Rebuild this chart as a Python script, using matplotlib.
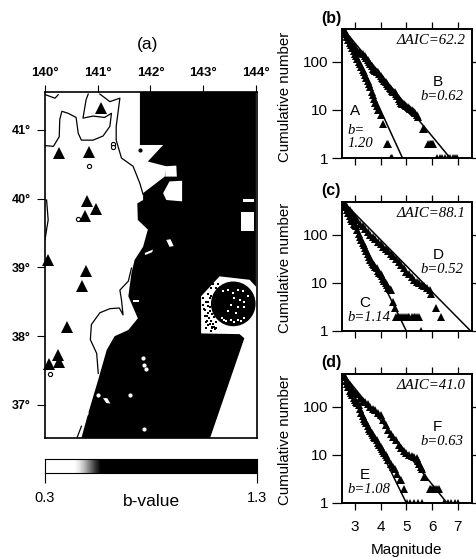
import matplotlib
matplotlib.use("Agg")
import matplotlib.pyplot as plt
from matplotlib.patches import Ellipse

plt.rcParams['font.family'] = ['Liberation Sans', 'DejaVu Sans']

W = 476
H = 557

# map data (lon, lat)
black_lon = [141.80, 141.80, 142.24, 141.95, 142.30, 142.27, 141.86, 141.86, 141.75, 141.76, 141.95, 141.86,
             141.70, 141.64, 141.58, 141.76, 141.58, 141.32, 141.17, 141.01, 140.82, 140.69,
             143.13, 143.78, 143.69, 142.96, 142.96, 143.31, 143.88, 144.0, 144.0]
black_lat = [41.55, 40.78, 40.78, 40.54, 40.47, 40.32, 40.08, 39.98, 39.93, 39.69, 39.55, 39.30,
             39.11, 38.92, 38.58, 38.26, 38.09, 38.0, 37.80, 37.37, 36.88, 36.52,
             36.52, 37.97, 38.03, 38.04, 38.58, 38.87, 38.82, 38.72, 41.55]

island_lons = [[142.24, 142.36, 142.60, 142.60, 142.30],
               [142.28, 142.49, 142.50, 142.28],
               [143.76, 143.97, 143.97, 143.76],
               [143.72, 143.97, 143.97, 143.72],
               [142.30, 142.38, 142.44, 142.36],
               [141.89, 142.05, 142.03, 141.90],
               [141.66, 141.78, 141.78, 141.66],
               [141.10, 141.18, 141.24, 141.16]]
island_lats = [[40.08, 40.25, 40.26, 39.96, 39.98],
               [40.47, 40.48, 40.32, 40.32],
               [40.00, 40.00, 39.95, 39.95],
               [39.80, 39.80, 39.53, 39.53],
               [39.40, 39.41, 39.31, 39.30],
               [39.21, 39.26, 39.22, 39.18],
               [38.53, 38.53, 38.50, 38.50],
               [37.10, 37.10, 37.02, 37.03]]
dot_lon = [141.01, 141.61, 141.86, 141.87, 141.91, 141.87, 140.78]
dot_lat = [37.14, 37.14, 37.68, 37.58, 37.52, 36.65, 36.88]

coast_lons = [[140.01, 140.16, 140.27, 140.28, 140.32, 140.44, 140.59, 140.63, 140.69, 140.91, 141.10, 141.23,
               141.26, 141.13, 140.91, 140.72, 140.78, 140.82],
              [141.04, 141.23, 141.42, 141.35, 141.35, 141.45, 141.67, 141.80, 141.86],
              [140.01, 140.19, 140.25],
              [140.03, 140.06, 140.03, 140.0],
              [141.64, 141.58, 141.42, 141.45, 141.48, 141.41, 141.23, 141.04, 140.88, 140.86, 140.98, 141.01],
              [140.69, 140.61]]
coast_lats = [[40.77, 40.76, 40.90, 41.15, 41.27, 41.24, 41.18, 40.95, 40.85, 40.85, 40.91, 41.05,
               41.24, 41.18, 41.20, 41.17, 41.44, 41.52],
              [41.52, 41.41, 41.46, 41.05, 40.85, 40.59, 40.47, 40.22, 40.06],
              [41.51, 41.46, 41.51],
              [39.98, 39.69, 39.55, 39.40],
              [38.99, 38.80, 38.67, 38.53, 38.31, 38.41, 38.40, 38.34, 38.17, 37.95, 37.75, 37.46],
              [36.69, 36.53]]
ring_lon = [140.84, 140.63, 140.09, 141.29, 141.29]
ring_lat = [40.47, 39.71, 37.45, 40.80, 40.75]

tri_lon = [140.27, 140.84, 141.07, 140.80, 140.96, 140.76, 140.06, 140.77, 140.70, 140.42, 140.24, 140.27, 140.08]
tri_lat = [40.67, 40.68, 41.32, 39.97, 39.85, 39.75, 39.11, 38.95, 38.73, 38.13, 37.73, 37.63, 37.60]

# big circle and its speckle
circle_lon = 143.57
circle_lat = 38.47
speck_w_lon = [143.37, 143.47, 143.56, 143.66, 143.75, 143.59, 143.69, 143.78, 143.84, 143.53, 143.66, 143.78,
               143.47, 143.40, 143.53, 143.66, 143.78, 143.62, 143.44, 143.72, 143.58, 143.35]
speck_w_lat = [38.65, 38.67, 38.63, 38.67, 38.65, 38.55, 38.53, 38.50, 38.58, 38.46, 38.43, 38.43,
               38.36, 38.24, 38.24, 38.24, 38.26, 38.33, 38.22, 38.22, 38.20, 38.27]
speck_b_lon = [143.00, 143.05, 143.10, 143.14, 143.18, 143.03, 143.08, 143.16, 143.22, 143.12, 143.20, 143.06,
               143.24, 143.15, 143.10, 143.26, 143.02, 143.18, 143.22, 143.12, 143.00, 143.04, 143.09, 143.13,
               143.17, 143.07, 143.11, 143.15, 143.19, 143.05, 143.09, 143.13, 143.17, 143.21, 143.25, 143.10,
               143.14, 143.20, 143.24, 143.28]
speck_b_lat = [38.56, 38.50, 38.62, 38.70, 38.76, 38.30, 38.22, 38.14, 38.10, 38.42, 38.28, 38.12,
               38.20, 38.08, 38.34, 38.66, 38.40, 38.48, 38.38, 38.56, 38.46, 38.38, 38.44, 38.36,
               38.32, 38.30, 38.26, 38.22, 38.18, 38.20, 38.16, 38.18, 38.12, 38.14, 38.12, 38.50,
               38.58, 38.60, 38.70, 38.76]

lon_ticks = [140, 141, 142, 143, 144]
lat_ticks = [37, 38, 39, 40, 41]

cbar_values = [[0, 0, 0, 0, 0, 0, 0.1, 0.3, 0.55, 0.8, 1, 1, 1, 1, 1, 1, 1, 1, 1, 1,
                1, 1, 1, 1, 1, 1, 1, 1, 1, 1, 1, 1, 1, 1, 1, 1, 1, 1, 1, 1]]

# frequency-magnitude data
a_m = [2.6, 2.65, 2.7, 2.75, 2.8, 2.85, 2.9, 2.95, 3.0, 3.05, 3.1, 3.15, 3.2, 3.25, 3.3, 3.35, 3.4, 3.45, 3.5,
       3.55, 3.6, 3.65, 3.7, 3.75, 3.8, 3.85, 3.9, 4.0, 4.1, 4.25, 4.3, 4.4, 4.45]
a_n = [430, 380, 330, 290, 250, 220, 190, 165, 145, 130, 115, 100, 88, 78, 68, 60, 53, 45, 40,
       34, 30, 24, 20, 17, 14, 12, 10, 8, 5, 2, 2, 1, 1]
b_m = [2.6, 2.65, 2.7, 2.75, 2.8, 2.85, 2.9, 2.95, 3.0, 3.05, 3.1, 3.15, 3.2, 3.3, 3.4, 3.45, 3.5, 3.55, 3.6,
       3.65, 3.7, 3.75, 3.8, 3.85, 3.9, 3.95, 4.0, 4.05, 4.1, 4.15, 4.2, 4.25, 4.3, 4.35, 4.4, 4.45, 4.5, 4.55, 4.6,
       4.65, 4.7, 4.75, 4.8, 4.85, 4.9, 4.95, 5.0, 5.05, 5.1, 5.15, 5.2, 5.25, 5.3, 5.35, 5.4, 5.45,
       5.65, 5.7, 5.85, 5.9, 5.95, 6.0, 6.05, 6.2, 6.3, 6.4, 6.5, 6.6, 6.7, 6.8, 6.9, 6.95]
b_n = [420, 380, 350, 320, 285, 260, 235, 215, 195, 180, 170, 160, 150, 145, 135, 120, 110, 100, 90,
       80, 72, 68, 65, 62, 60, 55, 50, 46, 43, 40, 38, 35, 32, 29, 27, 25, 24, 23, 21,
       19, 17, 15, 14, 13.5, 13, 12.5, 12, 11.5, 11, 10.5, 10, 9.5, 9, 8.5, 8, 7,
       4, 4, 2, 2, 2, 2, 2, 1, 1, 1, 1, 1, 1, 1, 1, 1]
c_m = [2.6, 2.65, 2.7, 2.75, 2.8, 2.85, 2.9, 2.95, 3.0, 3.05, 3.1, 3.15, 3.2, 3.25, 3.3, 3.35, 3.4, 3.45, 3.5,
       3.55, 3.6, 3.65, 3.7, 3.75, 3.8, 3.85, 3.9, 3.95, 4.0, 4.05, 4.1, 4.15, 4.2, 4.25, 4.3, 4.35, 4.4, 4.5, 4.57,
       4.6, 4.68, 4.75, 4.82, 4.9, 4.97, 5.05, 5.12, 5.2, 5.28, 5.35, 5.42, 5.5, 5.58]
c_n = [420, 370, 320, 280, 240, 210, 190, 170, 160, 150, 125, 105, 90, 78, 68, 60, 53, 46, 40,
       34, 30, 27, 25, 23, 21, 20, 18, 16, 15, 14, 12, 11, 10, 9, 8, 7.5, 7, 4, 3,
       2, 2, 2, 2, 2, 2, 2, 2, 2, 2, 2, 2, 2, 1]
d_m = [2.6, 2.7, 2.8, 2.9, 3.0, 3.1, 3.2, 3.3, 3.4, 3.5, 3.6, 3.7, 3.8, 3.9, 4.0, 4.1, 4.2, 4.3, 4.4, 4.5,
       4.6, 4.7, 4.8, 4.9, 5.0, 5.1, 5.2, 5.3, 5.4, 5.5, 5.6, 5.7, 5.8, 5.9, 5.97, 6.15, 6.35]
d_n = [430, 370, 320, 280, 235, 200, 170, 155, 135, 115, 100, 88, 80, 72, 64, 57, 50, 45, 40, 36,
       32, 27, 23, 20, 17, 15, 13, 11.5, 10.5, 10, 9, 8.5, 8, 7, 5.8, 3, 2]
e_m = [2.6, 2.65, 2.7, 2.75, 2.8, 2.85, 2.9, 2.95, 3.0, 3.05, 3.1, 3.15, 3.2, 3.25, 3.3, 3.35, 3.4, 3.45, 3.5, 3.55,
       3.6, 3.65, 3.7, 3.75, 3.8, 3.85, 3.9, 3.95, 4.0, 4.05, 4.1, 4.15, 4.2, 4.25, 4.3, 4.4, 4.5, 4.57, 4.65, 4.75,
       4.8, 4.9, 5.02, 5.15, 5.3, 5.45, 5.6]
e_n = [420, 350, 300, 260, 215, 195, 175, 155, 140, 128, 118, 108, 90, 76, 64, 55, 50, 45, 40, 35,
       31, 28, 26, 24, 22, 20, 18, 16, 14.5, 13, 12, 11, 10, 9, 8, 6.5, 5.5, 5, 4, 3,
       3, 2, 1, 1, 1, 1, 1]
f_m = [2.6, 2.7, 2.8, 2.9, 3.0, 3.1, 3.2, 3.3, 3.4, 3.5, 3.6, 3.7, 3.8, 3.9, 4.0, 4.1, 4.2, 4.3, 4.4, 4.5,
       4.6, 4.7, 4.8, 4.9, 5.0, 5.1, 5.2, 5.3, 5.4, 5.45, 5.5, 5.55, 5.6, 5.67, 5.72,
       5.9, 5.97, 6.05, 6.12, 6.2, 6.28, 6.45, 6.6, 6.75, 6.9, 7.0]
f_n = [420, 340, 290, 235, 205, 180, 155, 135, 125, 112, 100, 92, 84, 76, 68, 54, 42, 33, 27, 23,
       20, 16, 14, 12, 11, 10, 9.5, 9, 8.5, 7.5, 6.5, 5.5, 5, 3.5, 3.5,
       2, 2, 2, 2, 2, 2, 1, 1, 1, 1, 1]

line_a_m = [2.55, 4.85]
line_b_m = [2.55, 6.7]
line_c_m = [2.55, 5.0]
line_d_m = [2.55, 7.5]
line_e_m = [2.55, 5.0]
line_f_m = [2.55, 6.58]
line_n = [480, 1]

mag_ticks = [3, 4, 5, 6, 7]
num_ticks = [1, 10, 100]
num_labels = ['1', '10', '100']


def box(left, top, right, bottom):
    return [left / W, 1 - bottom / H, (right - left) / W, (bottom - top) / H]


fig = plt.figure(figsize=(W / 100, H / 100), dpi=100)

# (a) map
ax = fig.add_axes(box(45, 92, 257, 438))
ax.set_xlim(140, 144.02)
ax.set_ylim(36.52, 41.55)
ax.fill(black_lon, black_lat, color='black', lw=0)
for lo, la in zip(island_lons, island_lats):
    ax.fill(lo, la, color='white', lw=0)
ax.plot(dot_lon, dot_lat, 'o', color='white', ms=2)
ax.add_patch(Ellipse((circle_lon, circle_lat), 0.82, 0.63, fc='black', ec='black'))
ax.plot(speck_w_lon, speck_w_lat, 's', color='white', ms=2, mew=0)
ax.plot(speck_b_lon, speck_b_lat, 's', color='black', ms=1.5, mew=0)
for lo, la in zip(coast_lons, coast_lats):
    ax.plot(lo, la, color='black', lw=0.9)
ax.plot(ring_lon, ring_lat, 'o', mfc='white', mec='black', ms=3, mew=0.8)
ax.plot([141.81], [40.70], 'o', color='black', ms=2)
ax.plot(tri_lon, tri_lat, '^', color='black', ms=9, mew=0, clip_on=False)
ax.xaxis.tick_top()
ax.set_xticks(lon_ticks)
ax.set_xticklabels([f'{v}°' for v in lon_ticks], fontsize=9.5, fontweight='bold')
ax.set_yticks(lat_ticks)
ax.set_yticklabels([f'{v}°' for v in lat_ticks], fontsize=9, fontweight='bold')
ax.tick_params(axis='x', length=5, width=0.8, pad=4.5)
ax.tick_params(axis='y', length=6, width=0.8, pad=4.5)
for s in ax.spines.values():
    s.set_linewidth(1.2)

# colour bar
cax = fig.add_axes(box(45, 459, 257, 473))
cax.imshow(cbar_values, cmap='gray_r', aspect='auto', extent=[0.3, 1.3, 0, 1], interpolation='bilinear')
cax.set_yticks([])
cax.set_xticks([0.3, 1.3])
cax.set_xticklabels(['0.3', '1.3'], fontsize=10.5)
cax.tick_params(axis='x', length=7, width=0.8, pad=6)
cax.set_xlabel('b-value', fontsize=12.5, labelpad=-8)


def panel(top, m1, n1, lm1, m2, n2, lm2, aic, notes, bottom_labels):
    p = fig.add_axes(box(342, top, 472, top + 129))
    p.set_xlim(2.5, 7.55)
    p.set_yscale('log')
    p.set_ylim(1, 480)
    p.plot(lm1, line_n, color='black', lw=1.1)
    p.plot(lm2, line_n, color='black', lw=1.1)
    p.plot(m1, n1, '^', color='black', ms=5.5, mew=0)
    p.plot(m2, n2, '^', color='black', ms=5.5, mew=0)
    p.set_xticks(mag_ticks)
    p.set_yticks(num_ticks)
    p.set_yticklabels(num_labels, fontsize=11)
    p.minorticks_off()
    p.tick_params(axis='x', top=True, length=5, width=0.9, pad=7, labelbottom=bottom_labels, labelsize=11)
    p.tick_params(axis='y', right=True, length=7, width=0.9, pad=3)
    for s in p.spines.values():
        s.set_linewidth(1.4)
    p.text(0.95, 0.908, aic, transform=p.transAxes, ha='right', va='center',
           family='Liberation Serif', style='italic', fontsize=10.7)
    for x, y, t, kind in notes:
        if kind == 'letter':
            p.text(x, y, t, transform=p.transAxes, ha='center', va='center', fontsize=11)
        else:
            p.text(x, y, t, transform=p.transAxes, ha='left', va='center',
                   family='Liberation Serif', style='italic', fontsize=10.5)
    return p


panel(29, a_m, a_n, line_a_m, b_m, b_n, line_b_m, 'ΔAIC=62.2',
      [(0.738, 0.587, 'B', 'letter'), (0.60, 0.478, 'b=0.62', 'note'), (0.10, 0.362, 'A', 'letter'),
       (0.04, 0.214, 'b=', 'note'), (0.04, 0.111, '1.20', 'note')], False)
panel(202, c_m, c_n, line_c_m, d_m, d_n, line_d_m, 'ΔAIC=88.1',
      [(0.738, 0.589, 'D', 'letter'), (0.60, 0.478, 'b=0.52', 'note'), (0.177, 0.22, 'C', 'letter'),
       (0.04, 0.103, 'b=1.14', 'note')], False)
panel(374, e_m, e_n, line_e_m, f_m, f_n, line_f_m, 'ΔAIC=41.0',
      [(0.73, 0.59, 'F', 'letter'), (0.60, 0.473, 'b=0.63', 'note'), (0.177, 0.215, 'E', 'letter'),
       (0.04, 0.103, 'b=1.08', 'note')], True)

# labels placed on the figure
fig.text(148 / W, 1 - 45 / H, '(a)', ha='center', va='center', fontsize=12.5)
for label, y in [('(b)', 18), ('(c)', 191), ('(d)', 363)]:
    fig.text(331 / W, 1 - y / H, label, ha='center', va='center', fontsize=11.5, fontweight='bold')
for y in [97, 268, 440]:
    fig.text(285 / W, 1 - y / H, 'Cumulative number', rotation=90, ha='center', va='center', fontsize=10.8)
fig.text(406 / W, 1 - 550 / H, 'Magnitude', ha='center', va='center', fontsize=11)

fig.savefig('out.png', dpi=100)
